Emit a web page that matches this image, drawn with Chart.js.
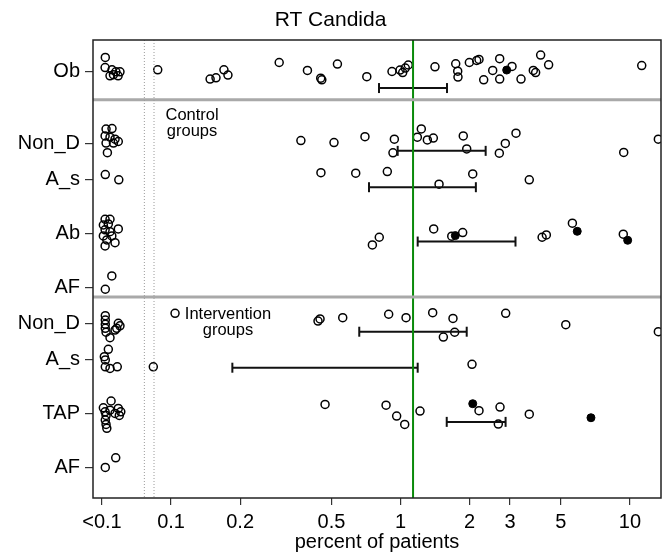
<!DOCTYPE html>
<html lang="en">
<head>
<meta charset="UTF-8">
<title>RT Candida</title>
<script src="https://cdn.jsdelivr.net/npm/chart.js"></script>
<style>
    body { margin: 0; background: #fff; }
    #wrap { width: 662px; height: 554px; }
</style>
</head>
<body>
<div id="wrap"><canvas id="chart" width="662" height="554"></canvas></div>
<script>
// row labels and their positions on the vertical axis (rows are not evenly spaced)
const categories = ['Ob', 'Non_D', 'A_s', 'Ab', 'AF', 'Non_D', 'A_s', 'TAP', 'AF'];
const categoryPos = [0, 4, 6, 9, 12, 14, 16, 19, 22];

// x ticks (values below 0.1 are plotted at 0.05 and labelled "<0.1")
const xTickValues = [0.05, 0.1, 0.2, 0.5, 1, 2, 3, 5, 10];
const xTickLabels = ['<0.1', '0.1', '0.2', '0.5', '1', '2', '3', '5', '10'];

// percent of patients per study, with jittered row position
const obPct = [0.0517, 0.0516, 0.0553, 0.0542, 0.0575, 0.0599, 0.0588, 0.0561, 0.0875, 0.148, 0.157, 0.170, 0.177, 0.296, 0.393, 0.449, 0.454, 0.531, 0.713, 0.918, 0.995, 1.022, 1.049, 1.081, 1.413, 1.740, 1.775, 1.780, 1.995, 2.148, 2.198, 2.304, 2.522, 2.705, 2.705, 3.061, 3.35, 3.79, 3.88, 4.08, 4.42, 11.25];
const obPos = [-0.78, -0.22, -0.09, 0.24, 0.02, 0.02, 0.24, 0.18, -0.09, 0.42, 0.35, -0.09, 0.20, -0.50, -0.06, 0.37, 0.46, -0.41, 0.29, 0, -0.08, 0.06, -0.19, -0.36, -0.26, -0.43, -0.02, 0.31, -0.50, -0.61, -0.67, 0.46, -0.06, -0.71, 0.42, -0.28, 0.42, -0.06, 0.06, -0.91, -0.37, -0.33];

const ctrlNonDPct = [0.0521, 0.0553, 0.0516, 0.0542, 0.0570, 0.0589, 0.0521, 0.0561, 0.0528, 0.368, 0.513, 0.700, 0.927, 0.940, 1.184, 1.232, 1.309, 1.390, 1.877, 1.943, 2.695, 2.862, 3.186, 9.39, 13.29];
const ctrlNonDPos = [3.20, 3.17, 3.58, 3.65, 3.76, 3.89, 3.98, 3.98, 4.51, 3.84, 3.95, 3.62, 4.52, 3.76, 3.65, 3.19, 3.80, 3.70, 3.58, 4.30, 4.54, 4.00, 3.43, 4.50, 3.76];

const ctrlAsPct = [0.0517, 0.0592, 0.450, 0.638, 0.876, 1.472, 2.064, 3.64];
const ctrlAsPos = [5.73, 6.02, 5.62, 5.65, 5.56, 6.26, 5.69, 6.02];

const ctrlAbPct = [0.0516, 0.0542, 0.0507, 0.0533, 0.0516, 0.0542, 0.0589, 0.0507, 0.0552, 0.0525, 0.0570, 0.0516, 0.754, 0.808, 1.395, 1.672, 1.866, 4.14, 4.32, 5.61, 9.35];
const ctrlAbPos = [8.21, 8.21, 8.53, 8.47, 8.80, 8.90, 8.75, 9.14, 9.14, 9.36, 9.51, 9.69, 9.64, 9.21, 8.75, 9.15, 8.95, 9.21, 9.08, 8.43, 9.04];

const ctrlAfPct = [0.0552, 0.0517];
const ctrlAfPos = [11.36, 12.10];

const intNonDPct = [0.0517, 0.0517, 0.0517, 0.0517, 0.0521, 0.0542, 0.0589, 0.0580, 0.0599, 0.0570, 0.1041, 0.437, 0.446, 0.560, 0.888, 1.057, 1.381, 1.537, 1.693, 1.722, 2.873, 5.25, 13.29];
const intNonDPos = [13.57, 13.81, 14.05, 14.27, 14.49, 14.79, 13.99, 14.27, 14.13, 14.37, 13.44, 13.87, 13.75, 13.68, 13.49, 13.68, 13.40, 14.76, 13.72, 14.49, 13.44, 14.07, 14.46];

const intAsPct = [0.0533, 0.0512, 0.0517, 0.0517, 0.0542, 0.0583, 0.0837, 2.049];
const intAsPos = [15.44, 15.85, 16.03, 16.41, 16.50, 16.41, 16.41, 16.27];

const tapPct = [0.0548, 0.0507, 0.0516, 0.0521, 0.0517, 0.0521, 0.0525, 0.0589, 0.0604, 0.0595, 0.0570, 0.0542, 0.469, 0.865, 0.962, 1.043, 1.216, 2.198, 2.714, 2.668, 3.64];
const tapPos = [18.31, 18.69, 18.91, 19.11, 19.37, 19.61, 19.83, 18.72, 18.91, 19.11, 19.00, 18.82, 18.50, 18.54, 19.15, 19.61, 18.87, 18.85, 18.65, 19.59, 19.04];

const intAfPct = [0.0517, 0.0574];
const intAfPos = [22.00, 21.47];

// filled markers
const filledPct = [2.902, 1.733, 5.89, 9.77, 2.064, 6.76];
const filledPos = [-0.08, 9.12, 8.88, 9.38, 18.46, 19.24];

// pooled ranges drawn as capped bars
const ciPos = [0.92, 4.41, 6.43, 9.45, 14.46, 16.46, 19.47];
const ciLow = [0.806, 0.972, 0.729, 1.188, 0.661, 0.185, 1.59];
const ciHigh = [1.594, 2.35, 2.13, 3.17, 1.943, 1.188, 2.87];

const refValue = 1.134;           // green reference line
const groupBreaks = [1.57, 12.53]; // grey separators between groups
const axisBreaks = [0.0765, 0.0843];

const noteLines = [['Control', 'groups'], ['Intervention', 'groups']];
const noteX = [0.1235, 0.177];
const notePos = [2.46, 13.48];

const xMin = 0.0457, xMax = 13.65;
const yMin = -1.75, yMax = 23.7;
const FONT = '"Liberation Sans", Arial, sans-serif';

function zip(xs, ys) {
    return xs.map((x, i) => ({ x: x, y: ys[i] }));
}

const openRows = [
    [obPct, obPos], [ctrlNonDPct, ctrlNonDPos], [ctrlAsPct, ctrlAsPos], [ctrlAbPct, ctrlAbPos],
    [ctrlAfPct, ctrlAfPos], [intNonDPct, intNonDPos], [intAsPct, intAsPos], [tapPct, tapPos], [intAfPct, intAfPos]
];
let openPoints = [];
openRows.forEach(r => { openPoints = openPoints.concat(zip(r[0], r[1])); });

const datasets = [];

axisBreaks.forEach(v => {
    datasets.push({
        type: 'line', data: [{ x: v, y: yMin }, { x: v, y: yMax }],
        borderColor: '#9a9a9a', borderWidth: 1, borderDash: [1, 2],
        pointRadius: 0, clip: 0
    });
});

groupBreaks.forEach(p => {
    datasets.push({
        type: 'line', data: [{ x: xMin, y: p }, { x: xMax, y: p }],
        borderColor: '#a9a9a9', borderWidth: 3, pointRadius: 0, clip: 0
    });
});

datasets.push({
    type: 'line', data: [{ x: refValue, y: yMin }, { x: refValue, y: yMax }],
    borderColor: '#0a8a0a', borderWidth: 2, pointRadius: 0, clip: 0
});

ciPos.forEach((p, i) => {
    datasets.push({
        type: 'line', data: [{ x: ciLow[i], y: p }, { x: ciHigh[i], y: p }],
        borderColor: '#111', borderWidth: 2,
        pointStyle: 'line', pointRotation: 90, pointRadius: 5,
        pointBorderColor: '#111', pointBorderWidth: 2, clip: 0
    });
});

datasets.push({
    type: 'scatter', data: openPoints,
    pointStyle: 'circle', pointRadius: 4, pointBorderWidth: 1.5,
    pointBorderColor: '#000', pointBackgroundColor: 'rgba(0,0,0,0)', clip: 0
});

datasets.push({
    type: 'scatter', data: zip(filledPct, filledPos),
    pointStyle: 'circle', pointRadius: 4, pointBorderWidth: 1,
    pointBorderColor: '#000', pointBackgroundColor: '#000', clip: 0
});

// box around the plot plus the two group notes
const framePlugin = {
    id: 'frame',
    afterDatasetsDraw(chart) {
        const { ctx, chartArea: a, scales } = chart;
        ctx.save();
        ctx.strokeStyle = '#222';
        ctx.lineWidth = 1.5;
        ctx.strokeRect(a.left, a.top, a.width, a.height);

        ctx.fillStyle = '#000';
        ctx.font = '16.5px ' + FONT;
        ctx.textAlign = 'center';
        ctx.textBaseline = 'middle';
        noteLines.forEach((lines, i) => {
            const x = scales.x.getPixelForValue(noteX[i]);
            const y = scales.y.getPixelForValue(notePos[i]);
            lines.forEach((t, j) => ctx.fillText(t, x, y + j * 16));
        });
        ctx.restore();
    }
};

new Chart(document.getElementById('chart'), {
    type: 'scatter',
    data: { datasets: datasets },
    options: {
        responsive: false,
        animation: false,
        layout: { autoPadding: false, padding: { left: 0, right: 1, top: 0, bottom: 0 } },
        plugins: {
            legend: { display: false },
            tooltip: { enabled: false },
            title: {
                display: true,
                text: 'RT Candida',
                color: '#000',
                font: { family: FONT, size: 21, weight: 'normal' },
                padding: { top: 8, bottom: 6.8 }
            }
        },
        scales: {
            x: {
                type: 'logarithmic',
                min: xMin,
                max: xMax,
                border: { display: false },
                grid: { drawOnChartArea: false, drawTicks: true, tickLength: 7, color: '#333', lineWidth: 1.2 },
                afterBuildTicks: axis => { axis.ticks = xTickValues.map(v => ({ value: v })); },
                afterFit: axis => {
                    axis.height = 56;
                    axis.paddingLeft = 0;
                    axis.paddingRight = 0;
                },
                ticks: {
                    autoSkip: false,
                    maxRotation: 0,
                    padding: 5,
                    color: '#000',
                    font: { family: FONT, size: 20 },
                    callback: value => xTickLabels[xTickValues.indexOf(value)]
                },
                title: {
                    display: true,
                    text: 'percent of patients',
                    color: '#000',
                    font: { family: FONT, size: 20 },
                    padding: { top: 0, bottom: 0 }
                }
            },
            y: {
                type: 'linear',
                reverse: true,
                min: yMin,
                max: yMax,
                border: { display: false },
                grid: { drawOnChartArea: false, drawTicks: true, tickLength: 8, color: '#333', lineWidth: 1.2 },
                afterBuildTicks: axis => { axis.ticks = categoryPos.map(v => ({ value: v })); },
                afterFit: axis => { axis.width = 93; },
                ticks: {
                    autoSkip: false,
                    padding: 5,
                    color: '#000',
                    font: { family: FONT, size: 20 },
                    callback: value => categories[categoryPos.indexOf(value)]
                }
            }
        }
    },
    plugins: [framePlugin]
});
</script>
</body>
</html>
